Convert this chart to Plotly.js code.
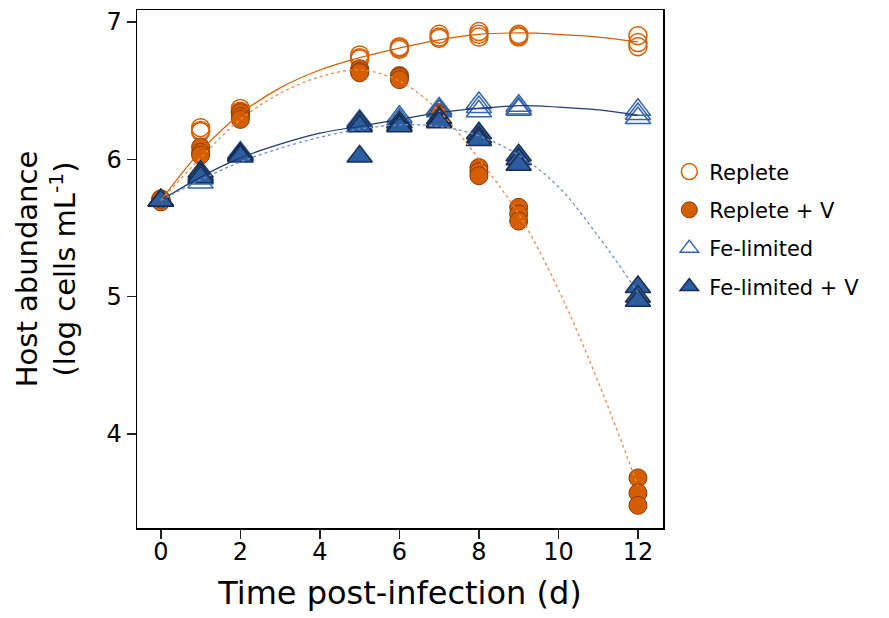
<!DOCTYPE html>
<html>
<head>
<meta charset="utf-8">
<script src="https://cdn.plot.ly/plotly-3.0.1.min.js"></script>
<style>html,body{margin:0;padding:0;background:#fff;}#chart{width:889px;height:618px;}</style>
</head>
<body>
<div id="chart"></div>
<script>
// Sampling times (days post-infection), three replicates each
const days = [0,0,0, 1,1,1, 2,2,2, 5,5,5, 6,6,6, 7,7,7, 8,8,8, 9,9,9, 12,12,12];

const replete      = [5.70,5.70,5.71, 6.23,6.21,6.20, 6.37,6.35,6.34, 6.76,6.74,6.73, 6.82,6.81,6.80, 6.91,6.89,6.88, 6.93,6.91,6.89, 6.91,6.90,6.89, 6.90,6.85,6.82];
const repleteV     = [5.70,5.69,5.71, 6.09,6.05,6.03, 6.34,6.31,6.29, 6.66,6.64,6.63, 6.61,6.60,6.58, 6.34,6.33,6.32, 5.94,5.91,5.88, 5.65,5.60,5.55, 3.68,3.57,3.48];
const feLimited    = [5.70,5.70,5.70, 5.83,5.86,5.88, 6.03,6.04,6.05, 6.28,6.27,6.25, 6.31,6.29,6.27, 6.37,6.36,6.35, 6.41,6.38,6.35, 6.39,6.37,6.36, 6.36,6.33,6.30];
const feLimitedV   = [5.70,5.70,5.70, 5.91,5.89,5.87, 6.04,6.03,6.02, 6.27,6.24,6.02, 6.27,6.25,6.24, 6.30,6.28,6.27, 6.19,6.16,6.14, 6.03,6.00,5.96, 5.07,5.00,4.97];

// Fitted curves
const fitX          = [0,1,2,3,4,5,6,7,8,9,10,11,12];
const fitReplete    = [5.70,6.06,6.33,6.52,6.65,6.74,6.81,6.87,6.91,6.92,6.91,6.89,6.855];
const fitRepleteV   = [5.70,6.01,6.29,6.48,6.60,6.65,6.57,6.35,6.00,5.60,5.05,4.38,3.62];
const fitFeLimited  = [5.70,5.87,6.01,6.11,6.19,6.24,6.29,6.34,6.37,6.39,6.38,6.36,6.32];
const fitFeLimitedV = [5.70,5.85,5.98,6.08,6.16,6.22,6.25,6.24,6.17,6.03,5.80,5.44,5.03];

const xTicks = [0,2,4,6,8,10,12];
const yTicks = [4,5,6,7];

const ORANGE = '#D55E00', ORANGE_DARK = '#8A3A0A', ORANGE_LIGHT = '#E98B52';
const BLUE = '#2D5DA1', BLUE_DARK = '#1A2E50', BLUE_LINE = '#1F3B73', BLUE_LIGHT = '#6E8FC8';

const traces = [
  {x: days, y: replete, mode: 'markers', name: 'Replete', legendgroup: 'a',
   marker: {symbol: 'circle-open', size: 18, color: ORANGE, line: {width: 1.5, color: ORANGE}}},
  {x: days, y: repleteV, mode: 'markers', name: 'Replete + V', legendgroup: 'b',
   marker: {symbol: 'circle', size: 18, color: ORANGE, line: {width: 1, color: ORANGE_DARK}}},
  {x: days, y: feLimited, mode: 'markers', name: 'Fe-limited', legendgroup: 'c',
   marker: {symbol: 'triangle-up-open', size: 22, color: '#3464AC', line: {width: 1.5, color: '#3464AC'}}},
  {x: days, y: feLimitedV, mode: 'markers', name: 'Fe-limited + V', legendgroup: 'd',
   marker: {symbol: 'triangle-up', size: 22, color: BLUE, line: {width: 1.5, color: BLUE_DARK}}},
  {x: fitX, y: fitReplete, mode: 'lines', showlegend: false, hoverinfo: 'skip',
   line: {shape: 'spline', color: ORANGE, width: 1.2}},
  {x: fitX, y: fitRepleteV, mode: 'lines', showlegend: false, hoverinfo: 'skip',
   line: {shape: 'spline', color: ORANGE_LIGHT, width: 1.3, dash: 'dot'}},
  {x: fitX, y: fitFeLimited, mode: 'lines', showlegend: false, hoverinfo: 'skip',
   line: {shape: 'spline', color: BLUE_LINE, width: 1.2}},
  {x: fitX, y: fitFeLimitedV, mode: 'lines', showlegend: false, hoverinfo: 'skip',
   line: {shape: 'spline', color: BLUE_LIGHT, width: 1.3, dash: 'dot'}}
];

const FONT = '"DejaVu Sans", Verdana, sans-serif';

const layout = {
  width: 889, height: 618,
  margin: {l: 137, r: 226, t: 10, b: 90},
  paper_bgcolor: '#fff', plot_bgcolor: '#fff',
  font: {family: FONT, color: '#000'},
  showlegend: true,
  legend: {
    x: 1.012, xanchor: 'left', y: 0.727, yanchor: 'top',
    font: {family: FONT, size: 21, color: '#000'},
    traceorder: 'grouped', tracegroupgap: 8,
    bgcolor: 'rgba(0,0,0,0)', borderwidth: 0
  },
  xaxis: {
    range: [-0.6, 12.63], tickvals: xTicks, ticktext: xTicks.map(String),
    ticks: 'outside', ticklen: 9, tickwidth: 1.5, tickcolor: '#222',
    ticklabelstandoff: -7,
    showline: true, linecolor: '#000', linewidth: 1.5, mirror: true,
    showgrid: false, zeroline: false,
    tickfont: {family: FONT, size: 24, color: '#000'},
    title: {text: 'Time post-infection (d)', font: {family: FONT, size: 32, color: '#000'}, standoff: 16}
  },
  yaxis: {
    range: [3.315, 7.087], tickvals: yTicks, ticktext: yTicks.map(String),
    ticks: 'outside', ticklen: 9, tickwidth: 1.5, tickcolor: '#222',
    showline: true, linecolor: '#000', linewidth: 1.5, mirror: true,
    showgrid: false, zeroline: false,
    tickfont: {family: FONT, size: 24, color: '#000'},
    title: {text: 'Host abundance<br>(log cells mL<sup>-1</sup>)', font: {family: FONT, size: 29, color: '#000'}, standoff: 22}
  }
};

Plotly.newPlot('chart', traces, layout, {displayModeBar: false, staticPlot: true});
</script>
</body>
</html>
